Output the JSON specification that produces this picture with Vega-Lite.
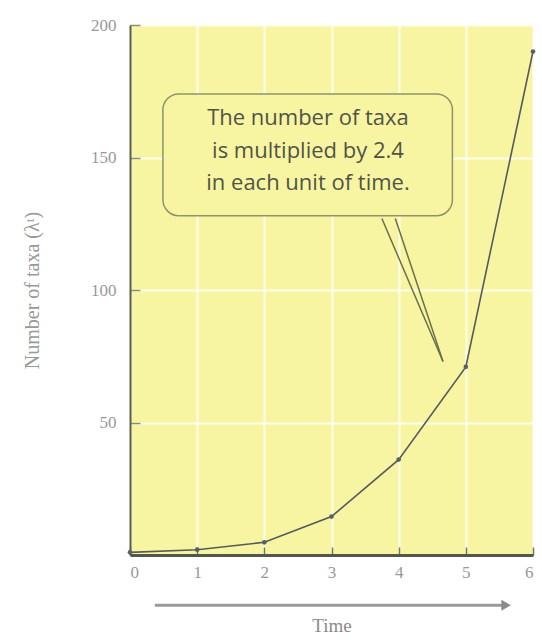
{
  "$schema": "https://vega.github.io/schema/vega-lite/v6.json",
  "width": 403,
  "height": 530,
  "autosize": {"type": "none"},
  "padding": {"left": 130, "top": 25, "right": 9, "bottom": 85},
  "background": "white",
  "config": {
    "view": {"fill": "#f8f5a2", "stroke": null},
    "font": "Liberation Serif"
  },
  "datasets": {
    "series": [
      {"time": 0, "taxa": 1},
      {"time": 1, "taxa": 2},
      {"time": 2, "taxa": 4.8},
      {"time": 3, "taxa": 14.5},
      {"time": 4, "taxa": 36},
      {"time": 5, "taxa": 71},
      {"time": 6, "taxa": 190}
    ],
    "box": [{"x1": 0.49, "x2": 4.8, "y1": 128, "y2": 174}],
    "note": [
      {"x": 2.65, "y": 165, "label": "The number of taxa"},
      {"x": 2.65, "y": 152.3, "label": "is multiplied by 2.4"},
      {"x": 2.65, "y": 140.5, "label": "in each unit of time."}
    ],
    "pointer": [
      {"x1": 3.75, "y1": 127, "x2": 4.66, "y2": 73},
      {"x1": 3.95, "y1": 127, "x2": 4.66, "y2": 73}
    ],
    "arrow": [{"x1": 0.37, "x2": 5.55, "y": -19}],
    "head": [{"x": 5.6, "y": -19}]
  },
  "layer": [
    {
      "data": {"name": "series"},
      "mark": {"type": "line", "color": "#555a5c", "strokeWidth": 1.6, "point": {"filled": true, "size": 22, "color": "#5a6068"}},
      "encoding": {
        "x": {
          "field": "time", "type": "quantitative",
          "scale": {"domain": [0, 6], "nice": false},
          "axis": {
            "values": [0, 1, 2, 3, 4, 5, 6],
            "format": "d",
            "title": "Time",
            "titleFont": "Liberation Serif",
            "titleFontWeight": "normal",
            "titleFontSize": 19,
            "titleColor": "#8a8a8a",
            "titlePadding": 36,
            "labelFontSize": 17,
            "labelColor": "#999999",
            "labelPadding": 17,
            "domainColor": "#50584a",
            "domainWidth": 3,
            "tickColor": "#707a60",
            "tickSize": -8,
            "tickWidth": 1.5,
            "grid": true,
            "gridColor": "#ffffff",
            "gridWidth": 2,
            "gridOpacity": 0.8
          }
        },
        "y": {
          "field": "taxa", "type": "quantitative",
          "scale": {"domain": [0, 200], "nice": false},
          "axis": {
            "values": [50, 100, 150, 200],
            "title": "Number of taxa (λᵗ)",
            "titleFont": "Liberation Serif",
            "titleFontWeight": "normal",
            "titleFontSize": 20,
            "titleColor": "#999999",
            "titlePadding": 48,
            "labelFontSize": 17,
            "labelColor": "#999999",
            "labelPadding": 24,
            "domainColor": "#5a6048",
            "domainWidth": 2,
            "tickColor": "#8a9070",
            "tickSize": -10,
            "tickWidth": 1.5,
            "grid": true,
            "gridColor": "#ffffff",
            "gridWidth": 2,
            "gridOpacity": 0.8
          }
        }
      }
    },
    {
      "data": {"name": "box"},
      "mark": {"type": "rect", "fill": "#f8f5a2", "stroke": "#8e9468", "strokeWidth": 1.5, "cornerRadius": 16},
      "encoding": {
        "x": {"field": "x1", "type": "quantitative"},
        "x2": {"field": "x2"},
        "y": {"field": "y1", "type": "quantitative"},
        "y2": {"field": "y2"}
      }
    },
    {
      "data": {"name": "pointer"},
      "mark": {"type": "rule", "color": "#6a7048", "strokeWidth": 1.5},
      "encoding": {
        "x": {"field": "x1", "type": "quantitative"},
        "x2": {"field": "x2"},
        "y": {"field": "y1", "type": "quantitative"},
        "y2": {"field": "y2"}
      }
    },
    {
      "data": {"name": "note"},
      "mark": {"type": "text", "font": "Open Sans", "fontSize": 22, "color": "#505448", "align": "center", "baseline": "middle"},
      "encoding": {
        "x": {"field": "x", "type": "quantitative"},
        "y": {"field": "y", "type": "quantitative"},
        "text": {"field": "label"}
      }
    },
    {
      "data": {"name": "arrow"},
      "mark": {"type": "rule", "color": "#9a9a9a", "strokeWidth": 3},
      "encoding": {
        "x": {"field": "x1", "type": "quantitative"},
        "x2": {"field": "x2"},
        "y": {"field": "y", "type": "quantitative"}
      }
    },
    {
      "data": {"name": "head"},
      "mark": {"type": "point", "shape": "triangle-right", "filled": true, "color": "#8a8a8a", "size": 120, "opacity": 1},
      "encoding": {
        "x": {"field": "x", "type": "quantitative"},
        "y": {"field": "y", "type": "quantitative"}
      }
    }
  ]
}
